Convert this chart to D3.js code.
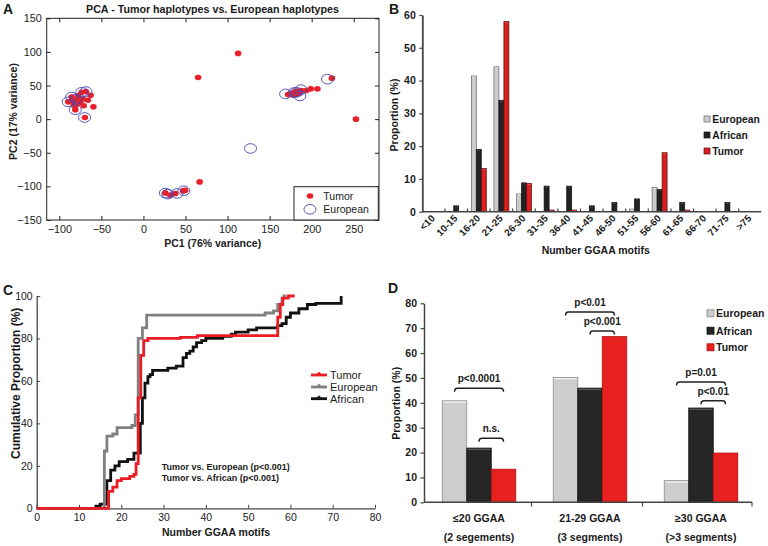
<!DOCTYPE html>
<html>
<head>
<meta charset="utf-8">
<script src="https://cdn.jsdelivr.net/npm/d3@7"></script>
<style>
html,body{margin:0;padding:0;background:#fff;}
svg{display:block;font-family:"Liberation Sans",Arial,Helvetica,sans-serif;}
</style>
</head>
<body>
<svg id="fig" width="768" height="546"></svg>
<script>
// ---------------- DATA ----------------
// Panel A: PCA
const pcaTumor = [
  [-89.5,25.7],[-85.4,33],[-80.3,28],[-77.5,35],[-73.5,40],[-68.3,41],[-62.8,35.5],
  [-81,14],[-69.6,2.5],[-59.5,18.3],[-71,20],[-81,20],[-66,28],[-75,24],[-83,21],[-78,31],[-72,30],[-86,27],
  [25.9,-109.7],[31.8,-113],[37.8,-110.5],[47,-106.7],[49.6,-106],
  [66.8,-93.3],[65,62],[112.6,97.8],[252.6,0],[224,61],
  [171.9,36.7],[175.4,38],[180,40.5],[183.8,41.7],[187.8,42.7],[193.7,42.7],[198.9,45],[206.8,45],
  [178,36],[182,37],[186,39]
];
const pcaEuropean = [
  [-89.5,25.7],[-85.4,33],[-73.5,40],[-68.3,41],[-81,14],[-70,2.5],[-80,30],
  [26,-110],[29,-111.5],[40,-110.5],[48,-106.5],
  [127.3,-43.6],[218.8,59.5],
  [169,37.5],[179,39.5],[187,44],[186,34.5],[182,40]
];
const pcaXTicks = [-100,-50,0,50,100,150,200,250];
const pcaYTicks = [-150,-100,-50,0,50,100,150];

// Panel B: distribution of GGAA motifs
const motifBins = ['<10','10-15','16-20','21-25','26-30','31-35','36-40','41-45','46-50','51-55','56-60','61-65','66-70','71-75','>75'];
const binEuropean = [0,0,41.4,44.2,5.4,0,0,0,0,0.8,7.4,0,0,0,0];
const binAfrican  = [0,1.8,19,34,8.8,7.8,7.8,1.8,2.8,3.9,6.8,2.8,0,2.8,0];
const binTumor    = [0,0,13.2,58,8.6,0.5,0.5,0,0,0,18,0.5,0,0,0];
const binYTicks = [0,10,20,30,40,50,60];

// Panel C: cumulative proportions [motifs, %]
const cdfTumor = [[0,0],[17,8],[18,10],[19,13],[20,14],[22,15],[23,16],[23.5,21],[24,52],[24.6,72],[25.3,79],[26.3,80],[34,80.5],[38,81.3],[57,90],[57.6,96],[58.2,99],[59.5,100],[61,100]];
const cdfEuropean = [[0,0],[16,27],[16.6,34],[18,35],[19,38],[22.5,39],[23.3,44],[24,80],[25,85],[26,91],[54,92],[56,93],[57,96],[58,99],[58.5,100],[59,100]];
const cdfAfrican = [[0,0],[14,1],[15,2],[16.6,13],[17.5,18],[18.5,20],[19.5,22],[21.5,23],[23,26],[24.5,40],[25,52],[25.6,59],[26.3,62],[26.8,63],[27.4,65],[31,66],[33,67],[34.6,71],[35.4,73],[36.2,74],[37,76],[37.8,78],[39,79],[40,80],[44,81],[46,82],[47,83],[50,84],[52,85],[57,86],[58,87],[59,90],[60,92],[62,94],[64,96],[66,96.5],[72,100]];
const cdfXTicks = [0,10,20,30,40,50,60,70,80];
const cdfYTicks = [0,20,40,60,80,100];

// Panel D: segments
const segGroups = ['≤20 GGAA','21-29 GGAA','≥30 GGAA'];
const segSub = ['(2 segements)','(3 segments)','(>3 segments)'];
const segEuropean = [40.8,50.2,8.7];
const segAfrican  = [21.8,45.9,37.9];
const segTumor    = [13.3,66.6,19.8];
const segYTicks = [0,10,20,30,40,50,60,70,80];
const segBrackets = [
  {g:0,a:'European',b:'Tumor',y:45.8,label:'p<0.0001'},
  {g:0,a:'African',b:'Tumor',y:25.7,label:'n.s.'},
  {g:1,a:'European',b:'Tumor',y:76.5,label:'p<0.01'},
  {g:1,a:'African',b:'Tumor',y:68.9,label:'p<0.001'},
  {g:2,a:'European',b:'Tumor',y:48.4,label:'p=0.01'},
  {g:2,a:'African',b:'Tumor',y:40.8,label:'p<0.01'}
];
const seriesNames = ['European','African','Tumor'];

// ---------------- DRAW ----------------
const svg = d3.select('#fig');
const ink = '#1a1a1a';

function panelLabel(t,x,y){
  svg.append('text').attr('x',x).attr('y',y).attr('font-size',14).attr('font-weight','bold').attr('fill',ink).text(t);
}

// ===== Panel A =====
(function(){
  const g = svg.append('g');
  const x = d3.scaleLinear().domain([-115,280]).range([46.7,379]);
  const y = d3.scaleLinear().domain([-150,150]).range([220,18.3]);
  g.append('rect').attr('x',46.7).attr('y',18.3).attr('width',379-46.7).attr('height',220-18.3)
    .attr('fill','none').attr('stroke','#222').attr('stroke-width',1);
  const ax = g.append('g').attr('transform','translate(0,220)')
    .call(d3.axisBottom(x).tickValues(pcaXTicks).tickSizeInner(-4).tickSizeOuter(0).tickPadding(5));
  const axT = g.append('g').attr('transform','translate(0,18.3)')
    .call(d3.axisTop(x).tickValues(pcaXTicks).tickSizeInner(-4).tickSizeOuter(0).tickFormat(''));
  const ay = g.append('g').attr('transform','translate(46.7,0)')
    .call(d3.axisLeft(y).tickValues(pcaYTicks).tickSizeInner(-4).tickSizeOuter(0).tickPadding(5));
  const ayR = g.append('g').attr('transform','translate(379,0)')
    .call(d3.axisRight(y).tickValues(pcaYTicks).tickSizeInner(-4).tickSizeOuter(0).tickFormat(''));
  [ax,axT,ay,ayR].forEach(a=>{
    a.select('.domain').remove();
    a.selectAll('line').attr('stroke','#222');
    a.selectAll('text').attr('font-size',10.8).attr('fill',ink).style('font-family','"Liberation Sans",Arial,sans-serif');
  });
  // points
  g.append('g').selectAll('ellipse').data(pcaTumor).join('ellipse')
    .attr('cx',d=>x(d[0])).attr('cy',d=>y(d[1])).attr('rx',3.3).attr('ry',2.8)
    .attr('fill','#e8202a');
  g.append('g').selectAll('ellipse').data(pcaEuropean).join('ellipse')
    .attr('cx',d=>x(d[0])).attr('cy',d=>y(d[1])).attr('rx',6).attr('ry',4.8)
    .attr('fill','none').attr('stroke','#4646b4').attr('stroke-width',0.9);
  // legend
  g.append('rect').attr('x',294).attr('y',186.7).attr('width',84.3).attr('height',33.3)
    .attr('fill','#fff').attr('stroke','#222').attr('stroke-width',1);
  g.append('ellipse').attr('cx',310).attr('cy',196).attr('rx',3.3).attr('ry',2.8).attr('fill','#e8202a');
  g.append('ellipse').attr('cx',310).attr('cy',209.3).attr('rx',6).attr('ry',4.8).attr('fill','none').attr('stroke','#4646b4').attr('stroke-width',0.9);
  g.append('text').attr('x',323.3).attr('y',199.7).attr('font-size',10.5).attr('fill',ink).text('Tumor');
  g.append('text').attr('x',323.3).attr('y',213).attr('font-size',10.5).attr('fill',ink).text('European');
  // titles
  g.append('text').attr('x',212.5).attr('y',12.5).attr('text-anchor','middle').attr('font-size',10.7).attr('font-weight','bold').attr('fill',ink)
    .text('PCA - Tumor haplotypes vs. European haplotypes');
  g.append('text').attr('x',212.7).attr('y',246.8).attr('text-anchor','middle').attr('font-size',10.5).attr('font-weight','bold').attr('fill','#222')
    .text('PC1 (76% variance)');
  g.append('text').attr('transform','translate(17,111.5) rotate(-90)').attr('text-anchor','middle').attr('font-size',10.5).attr('font-weight','bold').attr('fill','#222')
    .text('PC2 (17% variance)');
  panelLabel('A',3,13.5);
})();

// ===== Panel B =====
(function(){
  const g = svg.append('g');
  const x0 = d3.scaleBand().domain(motifBins).range([422.3,761.3]).padding(0);
  const x1 = d3.scaleBand().domain(seriesNames).range([0,x0.bandwidth()]).paddingInner(0).paddingOuter(0.76);
  const y = d3.scaleLinear().domain([0,60]).range([211.7,15]);
  const fills = {European:'#cbcbcb',African:'#222222',Tumor:'#d91f1f'};
  const strokes = {European:'#666',African:'#111',Tumor:'#5a0d0d'};
  const vals = {European:binEuropean,African:binAfrican,Tumor:binTumor};
  seriesNames.forEach(s=>{
    const data = motifBins.map((b,i)=>({b,v:vals[s][i]})).filter(d=>d.v>0);
    g.append('g').selectAll('rect').data(data).join('rect')
      .attr('x',d=>x0(d.b)+x1(s)).attr('y',d=>y(d.v)).attr('width',x1.bandwidth()).attr('height',d=>y(0)-y(d.v))
      .attr('fill',fills[s]).attr('stroke',strokes[s]).attr('stroke-width',0.7);
    g.append('g').selectAll('line').data(data).join('line')
      .attr('x1',d=>x0(d.b)+x1(s)+1.2).attr('x2',d=>x0(d.b)+x1(s)+x1.bandwidth()-1.2)
      .attr('y1',d=>y(d.v)+1).attr('y2',d=>y(d.v)+1)
      .attr('stroke', s==='European'?'#f4f4f4':(s==='African'?'#555':'#f06060')).attr('stroke-width',0.8);
  });
  const ay = g.append('g').attr('transform','translate(422.3,0)')
    .call(d3.axisLeft(y).tickValues(binYTicks).tickSizeInner(3).tickSizeOuter(0).tickPadding(3.5));
  ay.select('.domain').attr('stroke','#444').attr('stroke-width',1.8);
  ay.selectAll('line').attr('stroke','#444').attr('stroke-width',1.2);
  ay.selectAll('text').attr('font-size',10.5).attr('font-weight','bold').attr('fill',ink).style('font-family','"Liberation Sans",Arial,sans-serif');
  // x axis
  g.append('line').attr('x1',422.3).attr('x2',761.3).attr('y1',211.7).attr('y2',211.7).attr('stroke','#444').attr('stroke-width',1.5);
  g.append('g').selectAll('line').data(motifBins.slice(1)).join('line')
    .attr('x1',d=>x0(d)).attr('x2',d=>x0(d)).attr('y1',211.7).attr('y2',208.5).attr('stroke','#444').attr('stroke-width',1.2);
  g.append('g').selectAll('text').data(motifBins).join('text')
    .attr('transform',d=>`translate(${x0(d)+x0.bandwidth()/2+2},${219}) rotate(-45)`)
    .attr('text-anchor','end').attr('font-size',9.8).attr('font-weight','bold').attr('fill',ink).text(d=>d);
  g.append('text').attr('x',595.7).attr('y',254).attr('text-anchor','middle').attr('font-size',10.5).attr('font-weight','bold').attr('fill',ink).text('Number GGAA motifs');
  g.append('text').attr('transform','translate(398,115) rotate(-90)').attr('text-anchor','middle').attr('font-size',10.5).attr('font-weight','bold').attr('fill',ink).text('Proportion (%)');
  // legend
  const ly = [119,135,151];
  seriesNames.forEach((s,i)=>{
    g.append('rect').attr('x',704).attr('y',ly[i]-3).attr('width',6).attr('height',6).attr('fill',fills[s]).attr('stroke',strokes[s]).attr('stroke-width',0.7);
    g.append('text').attr('x',712.3).attr('y',ly[i]+3.7).attr('font-size',10.3).attr('font-weight','bold').attr('fill',ink).text(s);
  });
  panelLabel('B',389,13.5);
})();

// ===== Panel C =====
(function(){
  const g = svg.append('g');
  const x = d3.scaleLinear().domain([0,80]).range([36.7,375]);
  const y = d3.scaleLinear().domain([0,100]).range([508.3,296]);
  const ax = g.append('g').attr('transform','translate(0,508.3)')
    .call(d3.axisBottom(x).tickValues(cdfXTicks).tickSizeInner(-3.5).tickSizeOuter(0).tickPadding(5));
  const ay = g.append('g').attr('transform','translate(36.7,0)')
    .call(d3.axisLeft(y).tickValues(cdfYTicks).tickSizeInner(-3.5).tickSizeOuter(0).tickPadding(4));
  [ax,ay].forEach(a=>{
    a.select('.domain').attr('stroke','#444').attr('stroke-width',1.3);
    a.selectAll('line').attr('stroke','#444');
    a.selectAll('text').attr('font-size',10.5).attr('fill',ink).style('font-family','"Liberation Sans",Arial,sans-serif');
  });
  const line = d3.line().x(d=>x(d[0])).y(d=>y(d[1])).curve(d3.curveStepAfter);
  g.append('path').datum(cdfAfrican).attr('d',line).attr('fill','none').attr('stroke','#111').attr('stroke-width',2.8);
  g.append('path').datum(cdfEuropean).attr('d',line).attr('fill','none').attr('stroke','#808080').attr('stroke-width',2.8);
  g.append('path').datum(cdfTumor).attr('d',line).attr('fill','none').attr('stroke','#ec1c24').attr('stroke-width',2.8);
  // legend
  const leg = [['Tumor','#ec1c24',375],['European','#808080',387],['African','#111',398.7]];
  leg.forEach(([t,c,yy])=>{
    g.append('line').attr('x1',311).attr('x2',327).attr('y1',yy).attr('y2',yy).attr('stroke',c).attr('stroke-width',2.8);
    g.append('path').attr('d',`M${316},${yy} L${319},${yy-3.5} L${322},${yy} Z`).attr('fill',c);
    g.append('text').attr('x',330).attr('y',yy+4).attr('font-size',11).attr('fill',ink).text(t);
  });
  g.append('text').attr('x',161.7).attr('y',470.2).attr('font-size',9).attr('font-weight','bold').attr('fill',ink).text('Tumor vs. European (p<0.001)');
  g.append('text').attr('x',161.7).attr('y',481).attr('font-size',9).attr('font-weight','bold').attr('fill',ink).text('Tumor vs. African (p<0.001)');
  g.append('text').attr('x',216).attr('y',535.5).attr('text-anchor','middle').attr('font-size',10.5).attr('font-weight','bold').attr('fill',ink).text('Number GGAA motifs');
  g.append('text').attr('transform','translate(19.5,383.3) rotate(-90)').attr('text-anchor','middle').attr('font-size',12).attr('font-weight','bold').attr('fill',ink).text('Cumulative Proportion (%)');
  panelLabel('C',3,295);
})();

// ===== Panel D =====
(function(){
  const g = svg.append('g');
  const x0 = d3.scaleBand().domain(segGroups).range([423.5,756.5]).padding(0);
  const x1 = d3.scaleBand().domain(seriesNames).range([0,x0.bandwidth()]).paddingInner(0).paddingOuter(0.765);
  const y = d3.scaleLinear().domain([0,80]).range([502.3,303.3]);
  const fills = {European:'#cdcdcd',African:'#262626',Tumor:'#e6211f'};
  const strokes = {European:'#8a8a8a',African:'#111',Tumor:'#b01010'};
  const tops = {European:'#f5f5f5',African:'#5a5a5a',Tumor:'#e6211f'};
  const vals = {European:segEuropean,African:segAfrican,Tumor:segTumor};
  seriesNames.forEach(s=>{
    const data = segGroups.map((gr,i)=>({gr,v:vals[s][i]}));
    g.append('g').selectAll('rect').data(data).join('rect')
      .attr('x',d=>x0(d.gr)+x1(s)).attr('y',d=>y(d.v)).attr('width',x1.bandwidth()).attr('height',d=>y(0)-y(d.v))
      .attr('fill',fills[s]).attr('stroke',strokes[s]).attr('stroke-width',0.8);
    g.append('g').selectAll('line').data(data).join('line')
      .attr('x1',d=>x0(d.gr)+x1(s)+1).attr('x2',d=>x0(d.gr)+x1(s)+x1.bandwidth()-1)
      .attr('y1',d=>y(d.v)+1.3).attr('y2',d=>y(d.v)+1.3).attr('stroke',tops[s]).attr('stroke-width',1.2);
  });
  const ay = g.append('g').attr('transform','translate(424,0)')
    .call(d3.axisLeft(y).tickValues(segYTicks).tickSizeInner(3.5).tickSizeOuter(0).tickPadding(3.5));
  ay.select('.domain').attr('stroke','#444').attr('stroke-width',1.5);
  ay.selectAll('line').attr('stroke','#444').attr('stroke-width',1.2);
  ay.selectAll('text').attr('font-size',10.5).attr('font-weight','bold').attr('fill',ink).style('font-family','"Liberation Sans",Arial,sans-serif');
  g.append('line').attr('x1',424).attr('x2',752).attr('y1',502.3).attr('y2',502.3).attr('stroke','#444').attr('stroke-width',1.5);
  g.append('g').selectAll('line').data(segGroups).join('line')
    .attr('x1',d=>Math.min(x0(d)+x0.bandwidth()-3,752)).attr('x2',d=>Math.min(x0(d)+x0.bandwidth()-3,752))
    .attr('y1',502.3).attr('y2',506.5).attr('stroke','#444').attr('stroke-width',1.2);
  g.append('g').selectAll('text').data(segGroups).join('text')
    .attr('x',d=>x0(d)+x0.bandwidth()/2).attr('y',522).attr('text-anchor','middle')
    .attr('font-size',10.5).attr('font-weight','bold').attr('fill',ink).text(d=>d);
  g.append('g').selectAll('text').data(segSub).join('text')
    .attr('x',(d,i)=>x0(segGroups[i])+x0.bandwidth()/2).attr('y',540.5).attr('text-anchor','middle')
    .attr('font-size',10.5).attr('font-weight','bold').attr('fill',ink).text(d=>d);
  // brackets
  segBrackets.forEach(b=>{
    const gr = segGroups[b.g];
    const xa = x0(gr)+x1(b.a)+x1.bandwidth()/2;
    const xb = x0(gr)+x1(b.b)+x1.bandwidth()/2;
    const yy = y(b.y);
    g.append('path').attr('d',`M${xa},${yy+3.5} Q${xa},${yy} ${xa+3},${yy} L${xb-3},${yy} Q${xb},${yy} ${xb},${yy+3.5}`)
      .attr('fill','none').attr('stroke','#222').attr('stroke-width',1.5);
    g.append('text').attr('x',(xa+xb)/2).attr('y',yy-6).attr('text-anchor','middle')
      .attr('font-size',10).attr('font-weight','bold').attr('fill',ink).text(b.label);
  });
  g.append('text').attr('transform','translate(399.5,403.3) rotate(-90)').attr('text-anchor','middle').attr('font-size',10.5).attr('font-weight','bold').attr('fill',ink).text('Proportion (%)');
  const ly = [313.3,330.7,347.3];
  seriesNames.forEach((s,i)=>{
    g.append('rect').attr('x',707).attr('y',ly[i]-3.5).attr('width',7).attr('height',7).attr('fill',fills[s]).attr('stroke',strokes[s]).attr('stroke-width',0.8);
    g.append('text').attr('x',716).attr('y',ly[i]+4).attr('font-size',10.5).attr('font-weight','bold').attr('fill',ink).text(s);
  });
  panelLabel('D',388,293);
})();
</script>
</body>
</html>
